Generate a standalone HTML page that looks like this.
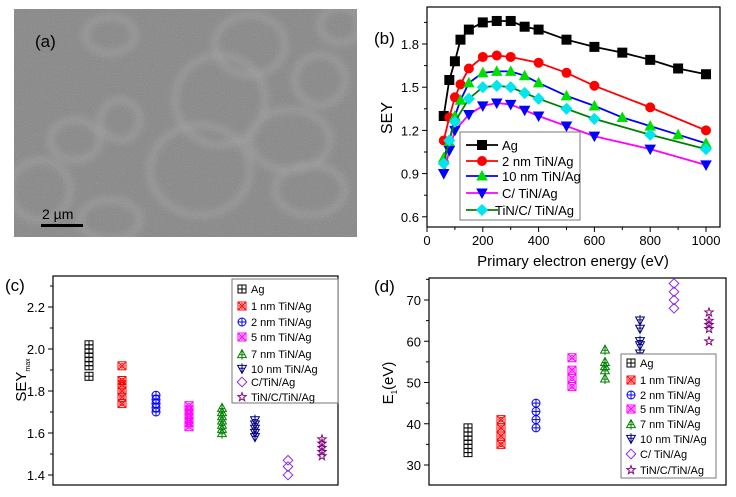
<!DOCTYPE html>
<html><head><meta charset="utf-8">
<style>
html,body{margin:0;padding:0;background:#fff;}
svg{display:block;font-family:"Liberation Sans",sans-serif;}
</style></head>
<body>
<svg id="fig" width="736" height="497" viewBox="0 0 736 497" xmlns="http://www.w3.org/2000/svg">
<defs>
<filter id="blur"><feGaussianBlur stdDeviation="4"/></filter>
<filter id="noise"><feTurbulence type="fractalNoise" baseFrequency="0.9" numOctaves="2" result="n"/><feColorMatrix type="saturate" values="0"/><feComponentTransfer><feFuncA type="linear" slope="0.3"/></feComponentTransfer></filter>
<clipPath id="semclip"><rect x="14" y="9" width="343" height="228"/></clipPath>
</defs>
<g clip-path="url(#semclip)">
<rect x="14" y="9" width="343" height="228" fill="#858585"/>
<g filter="url(#blur)" fill="none" stroke="#a8a8a8" stroke-width="4" opacity="0.8">
<ellipse cx="200" cy="170" rx="50" ry="45"/><ellipse cx="220" cy="100" rx="45" ry="45"/>
<ellipse cx="290" cy="140" rx="40" ry="30"/><ellipse cx="250" cy="45" rx="35" ry="30"/>
<ellipse cx="110" cy="35" rx="25" ry="18"/><ellipse cx="75" cy="140" rx="25" ry="20"/>
<ellipse cx="40" cy="190" rx="30" ry="30"/><ellipse cx="110" cy="220" rx="30" ry="20"/>
<ellipse cx="320" cy="80" rx="25" ry="25"/><ellipse cx="310" cy="190" rx="35" ry="25"/>
<ellipse cx="120" cy="120" rx="20" ry="20"/><ellipse cx="340" cy="25" rx="20" ry="18"/>
</g>
<rect x="14" y="9" width="343" height="228" filter="url(#noise)"/>
<text x="35" y="47" font-size="17" fill="#000">(a)</text>
<text x="42" y="219" font-size="14" fill="#000">2 µm</text>
<rect x="41" y="224" width="42" height="3" fill="#000"/>
</g>
<g id="pb"></g>
<g id="pc"></g>
<g id="pd"></g>
</svg>
<script>
// ---- Panel b data ----
const bSeriesNames = ["Ag","2 nm TiN/Ag","10 nm TiN/Ag","C/ TiN/Ag","TiN/C/ TiN/Ag"];
const bAgX = [60,80,100,120,150,200,250,300,350,400,500,600,700,800,900,1000];
const bAgY = [1.30,1.55,1.68,1.83,1.90,1.95,1.96,1.96,1.92,1.90,1.83,1.78,1.74,1.69,1.63,1.59];
const b2nmX = [60,80,100,120,150,200,250,300,400,500,600,800,1000];
const b2nmY = [1.13,1.29,1.43,1.52,1.63,1.71,1.72,1.71,1.67,1.60,1.51,1.36,1.20];
const b10nmX = [60,80,100,120,150,200,250,300,350,400,500,600,700,800,900,1000];
const b10nmY = [1.01,1.12,1.30,1.41,1.53,1.60,1.61,1.61,1.58,1.53,1.44,1.37,1.29,1.23,1.17,1.11];
const bCX = [60,80,100,150,200,250,300,350,400,500,600,800,1000];
const bCY = [0.90,1.06,1.20,1.31,1.37,1.39,1.38,1.34,1.30,1.23,1.16,1.07,0.96];
const bTCX = [60,80,100,150,200,250,300,350,400,500,600,800,1000];
const bTCY = [0.97,1.13,1.26,1.42,1.50,1.51,1.50,1.46,1.42,1.35,1.28,1.17,1.07];
const bXTicks = [0,200,400,600,800,1000];
const bYTicks = [0.6,0.9,1.2,1.5,1.8];
// ---- Panel c data ----
const cNames = ["Ag","1 nm TiN/Ag","2 nm TiN/Ag","5 nm TiN/Ag","7 nm TiN/Ag","10 nm TiN/Ag","C/TiN/Ag","TiN/C/TiN/Ag"];
const cAg = [1.87,1.92,1.94,1.96,1.98,2.00,2.02];
const c1nm = [1.92,1.74,1.77,1.80,1.83,1.85];
const c2nm = [1.70,1.72,1.74,1.76,1.78];
const c5nm = [1.63,1.65,1.67,1.69,1.71,1.73];
const c7nm = [1.60,1.62,1.64,1.66,1.68,1.70,1.72];
const c10nm = [1.58,1.60,1.62,1.64,1.66];
const cC = [1.40,1.44,1.47];
const cTC = [1.49,1.51,1.53,1.55,1.57];
const cYTicks = [1.4,1.6,1.8,2.0,2.2];
// ---- Panel d data ----
const dNames = ["Ag","1 nm TiN/Ag","2 nm TiN/Ag","5 nm TiN/Ag","7 nm TiN/Ag","10 nm TiN/Ag","C/ TiN/Ag","TiN/C/TiN/Ag"];
const dAg = [33,34,35,36,37,38,39];
const d1nm = [35,37,39,41];
const d2nm = [39,41,43,45];
const d5nm = [49,51,53,56];
const d7nm = [51,53,54,55,58];
const d10nm = [57,59,60,63,65];
const dC = [68,70,72,74];
const dTC = [60,63,64,65,67];
const dYTicks = [30,40,50,60,70];

const NS="http://www.w3.org/2000/svg";
function mk(parent,tag,attrs,text){const e=document.createElementNS(NS,tag);for(const k in attrs)e.setAttribute(k,attrs[k]);if(text!==undefined)e.textContent=text;parent.appendChild(e);return e;}

function marker(g,type,x,y,s,stroke,fill){
  const h=s/2;let e;
  const sw=1;
  if(type==="square"){e=mk(g,"rect",{x:x-h,y:y-h,width:s,height:s,fill:fill,stroke:stroke,"stroke-width":sw});}
  else if(type==="circle"){e=mk(g,"circle",{cx:x,cy:y,r:h,fill:fill,stroke:stroke,"stroke-width":sw});}
  else if(type==="up"){e=mk(g,"polygon",{points:`${x},${y-h*1.1} ${x-h*1.1},${y+h*0.9} ${x+h*1.1},${y+h*0.9}`,fill:fill,stroke:stroke,"stroke-width":sw});}
  else if(type==="down"){e=mk(g,"polygon",{points:`${x},${y+h*1.1} ${x-h*1.1},${y-h*0.9} ${x+h*1.1},${y-h*0.9}`,fill:fill,stroke:stroke,"stroke-width":sw});}
  else if(type==="diamond"){e=mk(g,"polygon",{points:`${x},${y-h*1.2} ${x+h*1.2},${y} ${x},${y+h*1.2} ${x-h*1.2},${y}`,fill:fill,stroke:stroke,"stroke-width":sw});}
  else if(type==="sqplus"){e=mk(g,"rect",{x:x-h,y:y-h,width:s,height:s,fill:"none",stroke:stroke,"stroke-width":sw});
    mk(g,"path",{d:`M${x-h} ${y}H${x+h}M${x} ${y-h}V${y+h}`,stroke:stroke,"stroke-width":sw});}
  else if(type==="sqx"){e=mk(g,"rect",{x:x-h,y:y-h,width:s,height:s,fill:"none",stroke:stroke,"stroke-width":sw});
    mk(g,"path",{d:`M${x-h} ${y-h}L${x+h} ${y+h}M${x+h} ${y-h}L${x-h} ${y+h}`,stroke:stroke,"stroke-width":sw});
    mk(g,"circle",{cx:x,cy:y,r:h*0.55,fill:"none",stroke:stroke,"stroke-width":sw});}
  else if(type==="cplus"){e=mk(g,"circle",{cx:x,cy:y,r:h,fill:"none",stroke:stroke,"stroke-width":sw});
    mk(g,"path",{d:`M${x-h} ${y}H${x+h}M${x} ${y-h}V${y+h}`,stroke:stroke,"stroke-width":sw});}
  else if(type==="tplus"){e=mk(g,"polygon",{points:`${x},${y-h*1.1} ${x-h*1.1},${y+h*0.9} ${x+h*1.1},${y+h*0.9}`,fill:"none",stroke:stroke,"stroke-width":sw});
    mk(g,"path",{d:`M${x} ${y-h*1.1}V${y+h*1.4}M${x-h*0.7} ${y+h*0.2}H${x+h*0.7}`,stroke:stroke,"stroke-width":sw});}
  else if(type==="dplus"){e=mk(g,"polygon",{points:`${x},${y+h*1.1} ${x-h*1.1},${y-h*0.9} ${x+h*1.1},${y-h*0.9}`,fill:"none",stroke:stroke,"stroke-width":sw});
    mk(g,"path",{d:`M${x} ${y+h*1.1}V${y-h*1.4}M${x-h*0.7} ${y-h*0.2}H${x+h*0.7}`,stroke:stroke,"stroke-width":sw});}
  else if(type==="odiamond"){e=mk(g,"polygon",{points:`${x},${y-h*1.2} ${x+h*1.2},${y} ${x},${y+h*1.2} ${x-h*1.2},${y}`,fill:"none",stroke:stroke,"stroke-width":sw});}
  else if(type==="star"){let p=[];for(let i=0;i<10;i++){const r=i%2?h*0.45:h*1.1;const a=-Math.PI/2+i*Math.PI/5;p.push((x+r*Math.cos(a)).toFixed(1)+","+(y+r*Math.sin(a)).toFixed(1));}
    e=mk(g,"polygon",{points:p.join(" "),fill:"none",stroke:stroke,"stroke-width":sw});}
  return e;
}

// ===== Panel B =====
(function(){
  const g=document.getElementById("pb");
  const L=427,R=720,T=7,B=227;
  const x=v=>427+(v/1000)*279;
  const y=v=>44+(1.8-v)*144;
  mk(g,"rect",{x:L,y:T,width:R-L,height:B-T,fill:"none",stroke:"#000","stroke-width":1.2});
  for(const t of bXTicks){const tk=mk(g,"line",{x1:x(t),x2:x(t),y1:B,y2:B+5,stroke:"#000"});
    
    
    const tl=mk(g,"text",{x:x(t),y:B+18,"font-size":13,"text-anchor":"middle"},String(t));
    
    }
  for(let i=0;i<bXTicks.length-1;i++){const m=(bXTicks[i]+bXTicks[i+1])/2;mk(g,"line",{x1:x(m),x2:x(m),y1:B,y2:B+3,stroke:"#000"});}
  for(const t of bYTicks){mk(g,"line",{x1:L-5,x2:L,y1:y(t),y2:y(t),stroke:"#000"});
    const tl=mk(g,"text",{x:L-8,y:y(t)+5,"font-size":13,"text-anchor":"end"},t.toFixed(1));
    
    
    mk(g,"line",{x1:L-3,x2:L,y1:y(t+0.15),y2:y(t+0.15),stroke:"#000"});}
  const xl=mk(g,"text",{x:573,y:266,"font-size":15,"text-anchor":"middle"},"Primary electron energy (eV)");
  
  
  const yl=mk(g,"text",{x:0,y:0,"font-size":16,"text-anchor":"middle",transform:"translate(392,118) rotate(-90)"},"SEY");
  
  
  const pl=mk(g,"text",{x:374,y:44,"font-size":17},"(b)");
  
  
  const series=[[bAgX,bAgY,"#000","#000","square"],[b2nmX,b2nmY,"#ff0000","#ff0000","circle"],[b10nmX,b10nmY,"#0000ff","#00e000","up"],[bCX,bCY,"#ff00ff","#0000ff","down"],[bTCX,bTCY,"#008000","#00e5ee","diamond"]];
  series.forEach((s,i)=>{
    const sg=mk(g,"g",{});
    
    
    const pts=s[0].map((v,j)=>x(v).toFixed(1)+","+y(s[1][j]).toFixed(1)).join(" ");
    const ln=mk(sg,"polyline",{points:pts,fill:"none",stroke:s[2],"stroke-width":1.8});
    
    
    s[0].forEach((v,j)=>{const m=marker(sg,s[4],x(v),y(s[1][j]),9,s[3],s[3]);
      
      });
  });
  const lg=mk(g,"g",{});
  
  
  mk(lg,"rect",{x:460,y:132,width:120,height:88,fill:"#fff",stroke:"#777","stroke-width":1});
  const ly=[145,161,176,193,210];
  series.forEach((s,i)=>{
    mk(lg,"line",{x1:466,x2:498,y1:ly[i],y2:ly[i],stroke:s[2],"stroke-width":1.8});
    marker(lg,s[4],482,ly[i],9,s[3],s[3]);
    const t=mk(lg,"text",{x:i===4?495:502,y:ly[i]+5,"font-size":13},bSeriesNames[i]);
    
    
  });
})();

function scatterPanel(gid,cfg){
  const g=document.getElementById(gid);
  const {L,R,T,B,y,yTicks,yMinor,xs,groups,names,types,colors,legend,ylabel,label,fmt}=cfg;
  mk(g,"rect",{x:L,y:T,width:R-L,height:B-T,fill:"none",stroke:"#000","stroke-width":1.2});
  for(const t of yTicks){mk(g,"line",{x1:L-5,x2:L,y1:y(t),y2:y(t),stroke:"#000"});
    const tl=mk(g,"text",{x:L-8,y:y(t)+5,"font-size":13,"text-anchor":"end"},fmt(t));
    
    }
  for(const t of yMinor){const yy=y(t); if(yy<T||yy>B) continue; mk(g,"line",{x1:L-3,x2:L,y1:yy,y2:yy,stroke:"#000"});}
  groups.forEach((vals,i)=>{
    const sg=mk(g,"g",{});
    
    
    vals.forEach(v=>{const m=marker(sg,types[i],xs[i],y(v),8,colors[i],"none");
      
      });
  });
  const lg=mk(g,"g",{});
  
  
  mk(lg,"rect",{x:legend.x,y:legend.y,width:legend.w,height:legend.h,fill:"#fff",stroke:"#777"});
  names.forEach((n,i)=>{
    const yy=legend.ys[i];
    marker(lg,types[i],legend.x+10,yy,8,colors[i],"none");
    const t=mk(lg,"text",{x:legend.x+19,y:yy+4,"font-size":11},n);
    
    
  });
  const yl=mk(g,"text",{x:0,y:0,"font-size":15,"text-anchor":"middle",transform:`translate(${ylabel.x},${ylabel.y}) rotate(-90)`});
  
  
  yl.innerHTML=ylabel.html;
  const pl=mk(g,"text",{x:label.x,y:label.y,"font-size":17},label.t);
  
  
}
const types=["sqplus","sqx","cplus","sqx","tplus","dplus","odiamond","star"];
const colors=["#000","#ff0000","#0000ff","#ff00ff","#008000","#000080","#8a2be2","#800080"];
scatterPanel("pc",{L:53,R:338,T:276,B:485,y:v=>307+(2.2-v)*210,yTicks:cYTicks,yMinor:[1.3,1.5,1.7,1.9,2.1,2.3],
  xs:[89,122,156,189,222,255,288,322],groups:[cAg,c1nm,c2nm,c5nm,c7nm,c10nm,cC,cTC],names:cNames,types,colors,
  legend:{x:232,y:279,w:106,h:124,ys:[289,306,322,337,354,369,382,397]},
  ylabel:{x:26,y:380,html:'SEY<tspan font-size="7" dy="4">max</tspan>'},label:{x:5,y:291,t:"(c)"},fmt:t=>t.toFixed(1)});
scatterPanel("pd",{L:429,R:726,T:278,B:485,y:v=>300+(70-v)*4.125,yTicks:dYTicks,yMinor:[35,45,55,65,75],
  xs:[468,501,536,572,605,640,674,709],groups:[dAg,d1nm,d2nm,d5nm,d7nm,d10nm,dC,dTC],names:dNames,types,colors,
  legend:{x:621,y:354,w:95,h:124,ys:[363,380,395,409,424,439,454,470]},
  ylabel:{x:393,y:383,html:'E<tspan font-size="8" dy="4">1</tspan><tspan dy="-4">(eV)</tspan>'},label:{x:374,y:292,t:"(d)"},fmt:t=>String(t)});
</script>
</body></html>
